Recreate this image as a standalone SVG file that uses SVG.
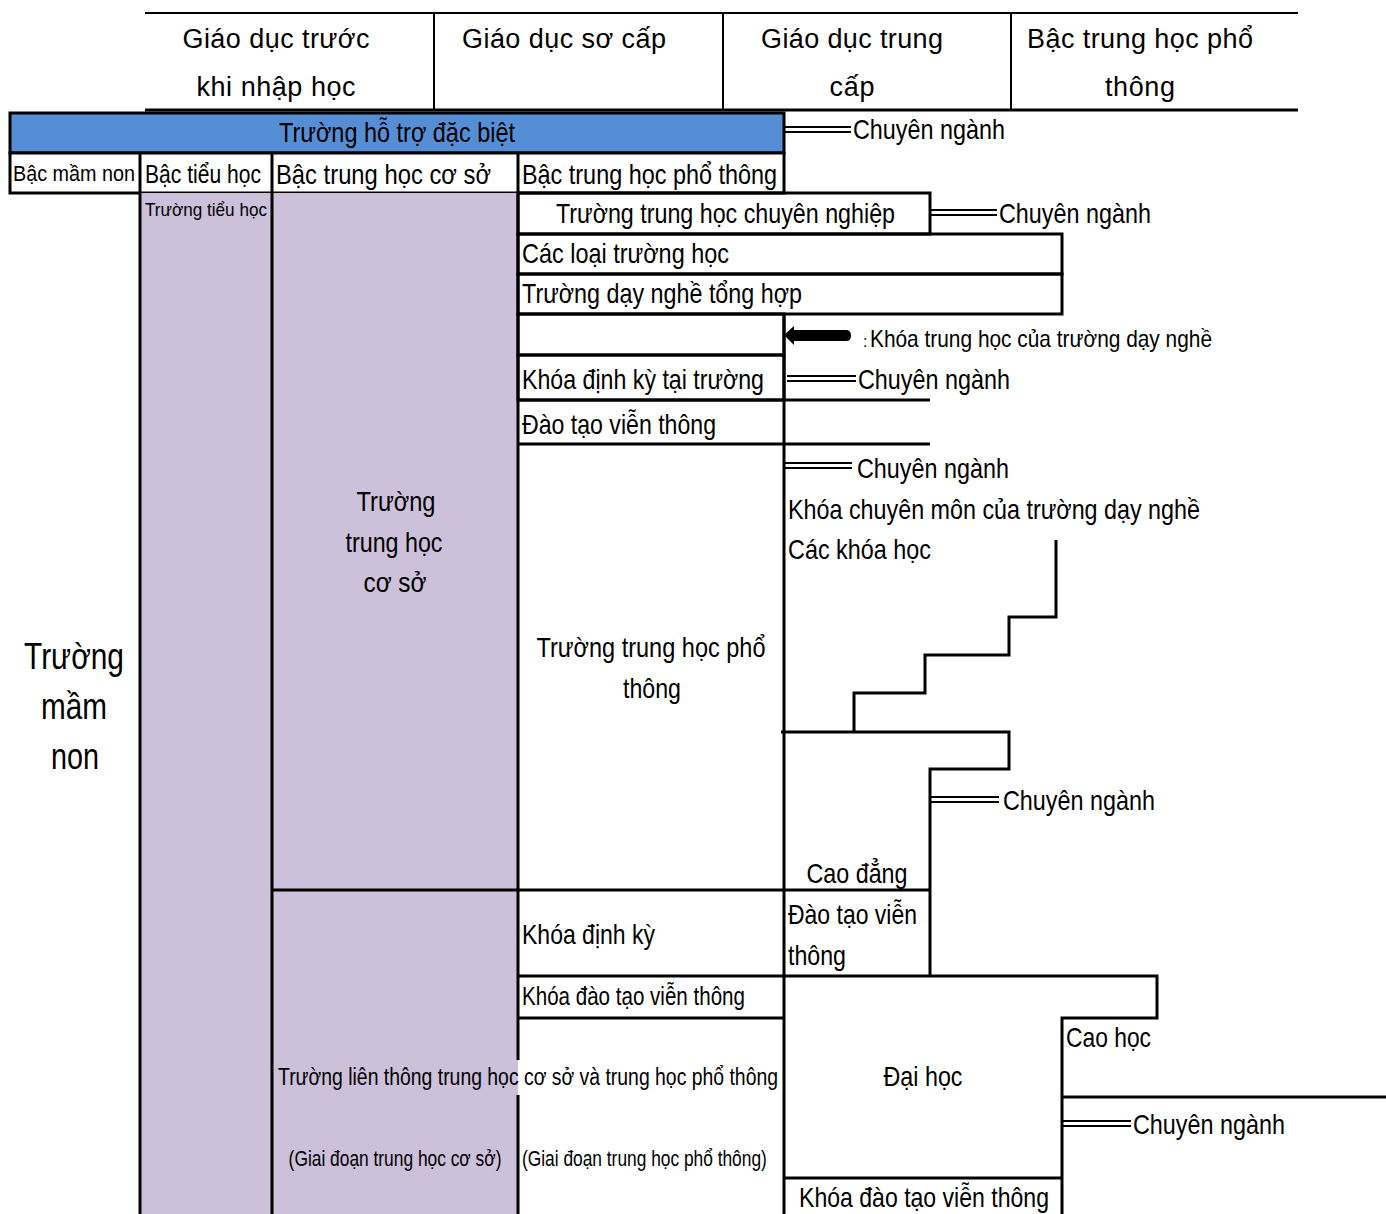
<svg xmlns="http://www.w3.org/2000/svg" width="1386" height="1214" viewBox="0 0 1386 1214">
<style>
.ln{stroke:#000;stroke-width:3;fill:none}
.thin{stroke:#000;stroke-width:2;fill:none}
.hd{font-family:"Liberation Sans",Arial,sans-serif;font-size:27px;fill:#000}
.t{font-family:"Liberation Sans Narrow","Liberation Sans",Arial,sans-serif;font-size:28px;fill:#000}
.s{font-size:24px}
.big{font-size:36px}
.m{text-anchor:middle}
.pur{fill:#CCC0DA}
.dbl{stroke:#000;stroke-width:2;fill:none}
</style>
<rect width="1386" height="1214" fill="#fff"/>

<g id="header">
<line class="thin" x1="145" y1="13" x2="1298" y2="13"/>
<line class="ln" x1="145" y1="110" x2="1298" y2="110"/>
<line class="thin" x1="434" y1="13" x2="434" y2="110"/>
<line class="thin" x1="723" y1="13" x2="723" y2="110"/>
<line class="thin" x1="1011" y1="13" x2="1011" y2="110"/>
<text class="hd m" x="276" y="48" textLength="187">Giáo dục trước</text>
<text class="hd m" x="276" y="96" textLength="159">khi nhập học</text>
<text class="hd m" x="564" y="48" textLength="204">Giáo dục sơ cấp</text>
<text class="hd m" x="852" y="48" textLength="182">Giáo dục trung</text>
<text class="hd m" x="852" y="96" textLength="45">cấp</text>
<text class="hd m" x="1140" y="48" textLength="226">Bậc trung học phổ</text>
<text class="hd m" x="1140" y="96" textLength="70">thông</text>
</g>

<g id="special-support-school">
<rect x="10" y="113" width="774" height="40" class="ln" style="fill:#558ED5"/>
<text class="t m" x="397" y="142" textLength="236" lengthAdjust="spacingAndGlyphs">Trường hỗ trợ đặc biệt</text>
</g>

<g id="level-row">
<rect x="10" y="153" width="774" height="40" class="ln" style="fill:#fff"/>
<line class="ln" x1="140" y1="153" x2="140" y2="193"/>
<line class="ln" x1="272" y1="153" x2="272" y2="193"/>
<line class="ln" x1="518" y1="153" x2="518" y2="193"/>
<text class="t" x="13" y="181" style="font-size:22px" textLength="122" lengthAdjust="spacingAndGlyphs">Bậc mầm non</text>
<text class="t" x="145" y="183" style="font-size:26px" textLength="116" lengthAdjust="spacingAndGlyphs">Bậc tiểu học</text>
<text class="t" x="276" y="184" textLength="215" lengthAdjust="spacingAndGlyphs">Bậc trung học cơ sở</text>
<text class="t" x="522" y="184" textLength="255" lengthAdjust="spacingAndGlyphs">Bậc trung học phổ thông</text>
</g>

<g id="kindergarten">
<text class="t big m" x="74" y="669" textLength="100" lengthAdjust="spacingAndGlyphs">Trường</text>
<text class="t big m" x="74" y="719" textLength="66" lengthAdjust="spacingAndGlyphs">mầm</text>
<text class="t big m" x="75" y="769" textLength="48" lengthAdjust="spacingAndGlyphs">non</text>
</g>

<g id="primary-school">
<rect class="pur" x="140" y="193" width="132" height="1025"/>
<line class="ln" x1="140" y1="193" x2="140" y2="1214"/>
<text class="t" x="145" y="216" style="font-size:19px" textLength="122" lengthAdjust="spacingAndGlyphs">Trường tiểu học</text>
</g>

<g id="lower-secondary-school">
<rect class="pur" x="272" y="193" width="246" height="697"/>
<text class="t m" x="396" y="511" textLength="79" lengthAdjust="spacingAndGlyphs">Trường</text>
<text class="t m" x="394" y="552" textLength="97" lengthAdjust="spacingAndGlyphs">trung học</text>
<text class="t m" x="395" y="592" textLength="63" lengthAdjust="spacingAndGlyphs">cơ sở</text>
</g>

<g id="combined-school">
<rect class="pur" x="272" y="890" width="246" height="330"/>
<text class="t" x="278" y="1085" style="font-size:23px" textLength="500" lengthAdjust="spacingAndGlyphs">Trường liên thông trung học cơ sở và trung học phổ thông</text>
<text class="t m" transform="translate(395 1166) scale(0.8 1)" x="0" y="0" style="font-size:22px" textLength="266" lengthAdjust="spacingAndGlyphs">(Giai đoạn trung học cơ sở)</text>
<text class="t" transform="translate(522 1166) scale(0.8 1)" x="0" y="0" style="font-size:22px" textLength="306" lengthAdjust="spacingAndGlyphs">(Giai đoạn trung học phổ thông)</text>
</g>

<g id="vocational-high-school">
<rect class="ln" x="518" y="193" width="412" height="41"/>
<text class="t" x="556" y="223" textLength="339" lengthAdjust="spacingAndGlyphs">Trường trung học chuyên nghiệp</text>
</g>

<g id="various-schools">
<rect class="ln" x="518" y="234" width="544" height="40"/>
<text class="t" x="522" y="263" textLength="207" lengthAdjust="spacingAndGlyphs">Các loại trường học</text>
</g>

<g id="general-vocational-school">
<rect class="ln" x="518" y="274" width="544" height="40"/>
<text class="t" x="522" y="303" textLength="280" lengthAdjust="spacingAndGlyphs">Trường dạy nghề tổng hợp</text>
</g>

<g id="vocational-course-cell">
<rect class="ln" x="518" y="314" width="266" height="41"/>
<text class="t s" x="863" y="347"><tspan style="font-size:16px">:</tspan><tspan x="870" textLength="342" lengthAdjust="spacingAndGlyphs">Khóa trung học của trường dạy nghề</tspan></text>
</g>

<g id="periodic-course-school">
<rect class="ln" x="518" y="355" width="266" height="45"/>
<text class="t" x="522" y="389" textLength="242" lengthAdjust="spacingAndGlyphs">Khóa định kỳ tại trường</text>
</g>

<g id="distance-learning">
<line class="ln" x1="518" y1="400" x2="930" y2="400"/>
<line class="ln" x1="518" y1="444" x2="930" y2="444"/>
<text class="t" x="522" y="434" textLength="194" lengthAdjust="spacingAndGlyphs">Đào tạo viễn thông</text>
</g>

<g id="upper-secondary-school">
<text class="t m" x="651" y="657" textLength="229" lengthAdjust="spacingAndGlyphs">Trường trung học phổ</text>
<text class="t m" x="652" y="698" textLength="58" lengthAdjust="spacingAndGlyphs">thông</text>
</g>

<g id="specialized-courses">
<text class="t" x="788" y="519" textLength="412" lengthAdjust="spacingAndGlyphs">Khóa chuyên môn của trường dạy nghề</text>
<text class="t" x="788" y="559" textLength="143" lengthAdjust="spacingAndGlyphs">Các khóa học</text>
</g>

<g id="periodic-course">
<text class="t" x="522" y="944" textLength="133" lengthAdjust="spacingAndGlyphs">Khóa định kỳ</text>
</g>

<g id="distance-course">
<text class="t" x="522" y="1005" style="font-size:26px" textLength="223" lengthAdjust="spacingAndGlyphs">Khóa đào tạo viễn thông</text>
</g>

<g id="junior-college">
<text class="t m" x="857" y="883" textLength="101" lengthAdjust="spacingAndGlyphs">Cao đẳng</text>
</g>

<g id="college-distance">
<text class="t" x="788" y="924" textLength="129" lengthAdjust="spacingAndGlyphs">Đào tạo viễn</text>
<text class="t" x="788" y="965" textLength="58" lengthAdjust="spacingAndGlyphs">thông</text>
</g>

<g id="university">
<text class="t m" x="923" y="1086" textLength="79" lengthAdjust="spacingAndGlyphs">Đại học</text>
<text class="t m" x="924" y="1207" textLength="250" lengthAdjust="spacingAndGlyphs">Khóa đào tạo viễn thông</text>
</g>

<g id="graduate-school">
<text class="t" x="1066" y="1047" textLength="85" lengthAdjust="spacingAndGlyphs">Cao học</text>
</g>

<g id="majors">
<text class="t" x="853" y="139" textLength="152" lengthAdjust="spacingAndGlyphs">Chuyên ngành</text>
<text class="t" x="999" y="223" textLength="152" lengthAdjust="spacingAndGlyphs">Chuyên ngành</text>
<text class="t" x="858" y="389" textLength="152" lengthAdjust="spacingAndGlyphs">Chuyên ngành</text>
<text class="t" x="857" y="478" textLength="152" lengthAdjust="spacingAndGlyphs">Chuyên ngành</text>
<text class="t" x="1003" y="810" textLength="152" lengthAdjust="spacingAndGlyphs">Chuyên ngành</text>
<text class="t" x="1133" y="1134" textLength="152" lengthAdjust="spacingAndGlyphs">Chuyên ngành</text>
</g>

<g id="connectors">
<line class="ln" x1="272" y1="193" x2="272" y2="1214"/>
<line class="ln" x1="518" y1="193" x2="518" y2="1060"/>
<line class="ln" x1="518" y1="1095" x2="518" y2="1214"/>
<line class="ln" x1="784" y1="314" x2="784" y2="1214"/>
<line class="ln" x1="272" y1="890" x2="930" y2="890"/>
<line class="ln" x1="518" y1="976" x2="784" y2="976"/>
<line class="ln" x1="518" y1="1018" x2="784" y2="1018"/>
<path class="ln" d="M1056,540 V617 H1009 V655 H925 V693 H854 V732"/>
<path class="ln" d="M781,732 H1009 V769 H930 V976"/>
<path class="ln" d="M784,976 H1157 V1018 H1062 V1214"/>
<line class="ln" x1="1062" y1="1097" x2="1386" y2="1097"/>
<line class="ln" x1="784" y1="1178" x2="1062" y2="1178"/>
<path d="M784,335 L794,326 L794,330 L846,330 Q851,330 851,335.5 Q851,341 846,341 L794,341 L794,345 Z" fill="#000"/>
<path class="dbl" d="M784,127 H851 M784,132 H851"/>
<path class="dbl" d="M930,210 H997 M930,215 H997"/>
<path class="dbl" d="M787,376 H856 M787,381 H856"/>
<path class="dbl" d="M784,463 H852 M784,468 H852"/>
<path class="dbl" d="M930,797 H999 M930,802 H999"/>
<path class="dbl" d="M1062,1121 H1131 M1062,1126 H1131"/>
</g>
</svg>
